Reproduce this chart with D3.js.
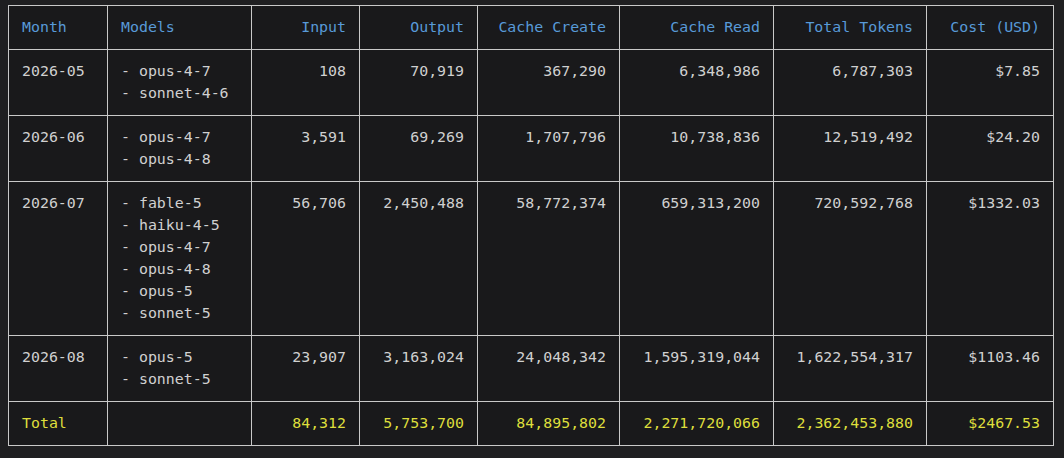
<!DOCTYPE html>
<html>
<head>
<meta charset="utf-8">
<script src="https://cdn.jsdelivr.net/npm/d3@7"></script>
<style>
  html, body { margin: 0; padding: 0; background: #1f1f21; }
  svg { display: block; }
</style>
</head>
<body>
<div id="chart"></div>
<script>
// Table data
const columns = ["Month", "Models", "Input", "Output", "Cache Create", "Cache Read", "Total Tokens", "Cost (USD)"];
const months = ["2026-05", "2026-06", "2026-07", "2026-08"];
const models = [
    ["opus-4-7", "sonnet-4-6"],
    ["opus-4-7", "opus-4-8"],
    ["fable-5", "haiku-4-5", "opus-4-7", "opus-4-8", "opus-5", "sonnet-5"],
    ["opus-5", "sonnet-5"]
];
const input = [108, 3591, 56706, 23907];
const output = [70919, 69269, 2450488, 3163024];
const cacheCreate = [367290, 1707796, 58772374, 24048342];
const cacheRead = [6348986, 10738836, 659313200, 1595319044];
const totalTokens = [6787303, 12519492, 720592768, 1622554317];
const cost = [7.85, 24.20, 1332.03, 1103.46];
const totals = [84312, 5753700, 84895802, 2271720066, 2362453880, 2467.53];

// Layout
const width = 1064, height = 458;
const colWidths = [99, 144, 108, 118, 142, 154, 153, 127];
const marginLeft = 8, marginTop = 5, lineH = 22, padX = 14;

const fmt = d3.format(",");
const money = v => "$" + v.toFixed(2);

// Build rows: each cell is an array of lines
const rows = [];
rows.push({kind: "head", cells: columns.map(c => [c])});
months.forEach((m, i) => {
    rows.push({kind: "body", cells: [
        [m],
        models[i].map(s => "- " + s),
        [fmt(input[i])], [fmt(output[i])], [fmt(cacheCreate[i])],
        [fmt(cacheRead[i])], [fmt(totalTokens[i])], [money(cost[i])]
    ]});
});
rows.push({kind: "total", cells: [["Total"], []].concat(
    totals.slice(0, 5).map(v => [fmt(v)]), [[money(totals[5])]])});

// Row positions from line counts
let y0 = marginTop;
rows.forEach(r => {
    r.h = lineH + lineH * Math.max(1, d3.max(r.cells, c => c.length));
    r.y = y0;
    y0 += r.h;
});

// Column scale
const colEdges = Array.from(d3.cumsum([0].concat(colWidths))).map(v => v + marginLeft);
const x = d3.scaleOrdinal().domain(columns).range(colEdges.slice(0, -1));
const colW = d3.scaleOrdinal().domain(columns).range(colWidths);

const color = {head: "#589ad8", body: "#d0d0d0", total: "#dede3c"};

const svg = d3.select("#chart").append("svg")
    .attr("width", width).attr("height", height);

svg.append("rect").attr("width", width).attr("height", height).attr("fill", "#1f1f21");

const g = svg.append("g")
    .style("font-family", "'DejaVu Sans Mono', 'Liberation Mono', monospace")
    .style("font-size", "14.9px");

const rowG = g.selectAll("g.row").data(rows).enter().append("g")
    .attr("class", "row")
    .attr("transform", d => "translate(0," + d.y + ")");

const cell = rowG.selectAll("g.cell")
    .data(d => d.cells.map((c, j) => ({lines: c, col: columns[j], j: j, kind: d.kind, h: d.h})))
    .enter().append("g").attr("class", "cell");

cell.append("rect")
    .attr("x", d => x(d.col) + 0.5)
    .attr("y", 0.5)
    .attr("width", d => colW(d.col))
    .attr("height", d => d.h)
    .attr("fill", "#19191b")
    .attr("stroke", "#c9c9c9")
    .attr("stroke-width", 1);

cell.selectAll("text")
    .data(d => d.lines.map((t, k) => ({t: t, k: k, d: d})))
    .enter().append("text")
    .attr("x", e => e.d.j < 2 ? x(e.d.col) + padX : x(e.d.col) + colW(e.d.col) - padX + 1)
    .attr("y", e => lineH + e.k * lineH)
    .attr("dy", "0.36em")
    .attr("text-anchor", e => e.d.j < 2 ? "start" : "end")
    .attr("fill", e => color[e.d.kind])
    .text(e => e.t);
</script>
</body>
</html>
